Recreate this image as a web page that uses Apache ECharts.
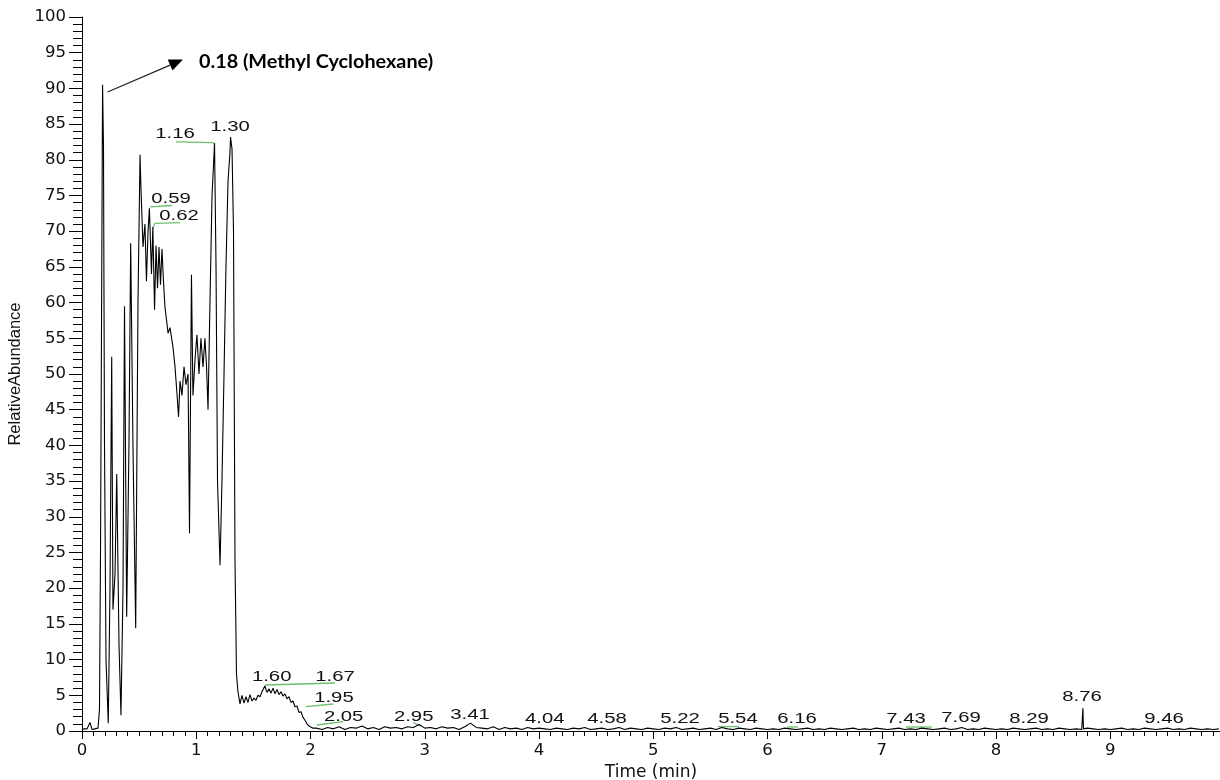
<!DOCTYPE html>
<html>
<head>
<meta charset="utf-8">
<title>Chromatogram</title>
<script src="https://cdn.jsdelivr.net/npm/echarts@6/dist/echarts.min.js"></script>
<style>
  html, body { margin: 0; padding: 0; background: #fff; }
  #chart { width: 1220px; height: 780px; }
</style>
</head>
<body>
<div id="chart"></div>
<script>
// Total ion chromatogram: retention time (min) vs. relative abundance (%)

// Early, peak-rich part of the run (0 - 2.02 min)
const traceTime = [
  0, 0.02, 0.044, 0.07, 0.088, 0.114, 0.14, 0.153, 0.162, 0.18,
  0.188, 0.197, 0.21, 0.23, 0.245, 0.26, 0.271, 0.289, 0.304, 0.324,
  0.341, 0.359, 0.372, 0.391, 0.411, 0.426, 0.446, 0.47, 0.49, 0.508,
  0.516, 0.534, 0.551, 0.564, 0.578, 0.59, 0.608, 0.62, 0.635, 0.648,
  0.661, 0.674, 0.687, 0.70, 0.713, 0.726, 0.744, 0.753, 0.77, 0.796,
  0.814, 0.831, 0.845, 0.858, 0.875, 0.893, 0.91, 0.928, 0.941, 0.958,
  0.971, 0.989, 1.006, 1.024, 1.041, 1.059, 1.076, 1.09, 1.103, 1.12,
  1.138, 1.16, 1.173, 1.186, 1.208, 1.225, 1.243, 1.26, 1.278, 1.295,
  1.30, 1.313, 1.326, 1.339, 1.352, 1.365, 1.383, 1.40, 1.418, 1.435,
  1.453, 1.47, 1.488, 1.505, 1.523, 1.54, 1.558, 1.575, 1.60, 1.619,
  1.637, 1.654, 1.672, 1.689, 1.707, 1.724, 1.742, 1.759, 1.777, 1.794,
  1.812, 1.829, 1.847, 1.864, 1.882, 1.899, 1.917, 1.934, 1.952, 1.969,
  1.987, 2.004, 2.021
];
const traceAbund = [
  0.2, 0.3, 0.3, 1.2, 0.2, 0.3, 0.4, 3, 25, 90.5,
  82, 40, 10, 1.1, 20, 52.4, 17, 22, 36, 12,
  2.2, 20, 59.5, 16, 40, 68.3, 40, 14.4, 60, 80.7,
  76, 67.8, 71, 63, 70, 73.2, 64, 70.6, 59, 68,
  62, 67.8, 62.5, 67.5, 63, 59.4, 57, 55.7, 56.5, 53.8,
  51, 47.3, 44, 49, 47, 51, 48.5, 50, 27.7, 63.9,
  47, 52, 55.5, 50, 55, 51, 55, 51, 45, 60,
  75, 82.3, 65, 35, 23.2, 35, 50, 65, 77, 81,
  83.2, 81.5, 70, 24, 8, 5.5, 3.8, 5, 3.9, 4.8,
  4, 5.1, 4.2, 4.6, 4.3, 5, 4.8, 5.5, 6.3, 5.4,
  5.9, 5.3, 6, 5.2, 5.8, 5.1, 5.5, 4.9, 5.2, 4.5,
  4.8, 4, 4.2, 3.4, 3.5, 2.6, 2.7, 1.9, 1.5, 1,
  0.7, 0.5, 0.4
];

// Baseline after 2.05 min, one reading every 0.05 min
const baselineStart = 2.05;
const baselineStep = 0.05;
const baselineAbund = [
  0.4, 0.2, 0.5, 0.3, 0.6, 0.2, 0.5, 0.4, 0.7, 0.3, 0.5, 0.2, 0.6, 0.4, 0.5, 0.3, 0.6, 0.5, 0.9, 0.4,
  0.5, 0.3, 0.6, 0.4, 0.5, 0.2, 0.6, 1.1, 0.5, 0.4, 0.3, 0.6, 0.2, 0.5, 0.3, 0.4, 0.2, 0.5, 0.3, 0.4,
  0.3, 0.2, 0.4, 0.3, 0.2, 0.4, 0.3, 0.5, 0.2, 0.3, 0.4, 0.2, 0.3, 0.5, 0.2, 0.4, 0.3, 0.2, 0.4, 0.3,
  0.2, 0.4, 0.3, 0.5, 0.2, 0.3, 0.4, 0.2, 0.3, 0.4, 0.2, 0.5, 0.3, 0.2, 0.4, 0.3, 0.2, 0.4, 0.3, 0.2,
  0.3, 0.2, 0.4, 0.3, 0.2, 0.3, 0.4, 0.2, 0.3, 0.2, 0.4, 0.3, 0.2, 0.3, 0.4, 0.2, 0.3, 0.2, 0.4, 0.3,
  0.2, 0.3, 0.4, 0.2, 0.3, 0.2, 0.4, 0.3, 0.2, 0.3, 0.4, 0.2, 0.3, 0.5, 0.2, 0.3, 0.2, 0.4, 0.3, 0.2,
  0.3, 0.2, 0.4, 0.3, 0.2, 0.3, 0.4, 0.2, 0.3, 0.2, 0.4, 0.3, 0.2, 0.3, 0.2, 0.4, 0.3, 0.2, 0.3, 0.2,
  0.3, 0.4, 0.2, 0.3, 0.2, 0.4, 0.3, 0.2, 0.3, 0.4, 0.2, 0.3, 0.2, 0.4, 0.3, 0.2, 0.3, 0.2, 0.3
];

// Narrow late-eluting peak
const spikeTime = [8.755, 8.76, 8.765];
const spikeAbund = [0.3, 3.2, 0.3];

// Retention-time labels of the integrated peaks
const peakLabels = ['0.59', '0.62', '1.16', '1.30', '1.60', '1.67', '1.95', '2.05', '2.95', '3.41',
                    '4.04', '4.58', '5.22', '5.54', '6.16', '7.43', '7.69', '8.29', '8.76', '9.46'];

const mainPeakTime = 0.18;
const mainPeakName = 'Methyl Cyclohexane';

// Axis ranges
const timeMax = 9.96;
const abundMax = 100;

// ---- layout of the annotations (in axis units) ----
const labelAnchor = [
  [0.779, 74.5], [0.849, 72.1], [0.814, 83.6], [1.295, 84.6], [1.66, 7.56],
  [2.214, 7.56], [2.205, 4.62], [2.29, 2.0], [2.903, 1.96], [3.396, 2.24],
  [4.05, 1.68], [4.595, 1.68], [5.234, 1.68], [5.741, 1.68], [6.258, 1.68],
  [7.212, 1.68], [7.693, 1.82], [8.288, 1.68], [8.752, 4.76], [9.47, 1.68]
];
const leaderPaths = [
  [[0.595, 73.4], [0.788, 73.6]],
  [[0.62, 70.4], [0.639, 71.1], [0.858, 71.2]],
  [[0.823, 82.5], [1.147, 82.4], [1.16, 82.1]],
  [[1.602, 6.44], [2.214, 6.72]],
  [[1.96, 3.4], [2.199, 3.78]],
  [[2.054, 0.84], [2.287, 1.3]],
  [[2.9, 1.16], [2.964, 0.7]],
  [[5.566, 0.62], [5.75, 0.62]],
  [[6.17, 0.56], [6.266, 0.56]],
  [[7.21, 0.56], [7.44, 0.56]]
];

// ---- assemble the trace ----
const points = traceTime.map((t, i) => [t, traceAbund[i]]);
baselineAbund.forEach((v, i) => {
  points.push([+(baselineStart + i * baselineStep).toFixed(3), v]);
});
spikeTime.forEach((t, i) => points.push([t, spikeAbund[i]]));
points.sort((a, b) => a[0] - b[0]);

const chart = echarts.init(document.getElementById('chart'), null, { renderer: 'canvas' });

const tickFont = { fontFamily: 'DejaVu Sans', fontSize: 16.5, color: '#111' };

chart.setOption({
  animation: false,
  backgroundColor: '#fff',
  grid: { left: 82, right: 0, top: 17, bottom: 49, containLabel: false, outerBoundsMode: 'none' },
  xAxis: {
    type: 'value',
    min: 0,
    max: timeMax,
    interval: 1,
    name: 'Time (min)',
    nameLocation: 'middle',
    nameGap: 30,
    nameTextStyle: { fontFamily: 'DejaVu Sans', fontSize: 17, color: '#111' },
    axisLine: { show: true, onZero: false, lineStyle: { color: '#000', width: 1 } },
    axisTick: { show: true, length: 8, lineStyle: { color: '#000' } },
    minorTick: { show: true, splitNumber: 10, length: 5, lineStyle: { color: '#000' } },
    axisLabel: Object.assign({ margin: 11, showMaxLabel: false }, tickFont),
    splitLine: { show: false }
  },
  yAxis: {
    type: 'value',
    min: 0,
    max: abundMax,
    interval: 5,
    name: 'RelativeAbundance',
    nameLocation: 'middle',
    nameRotate: 90,
    nameGap: 53,
    nameTextStyle: { fontFamily: 'Liberation Sans', fontSize: 16.5, color: '#111' },
    axisLine: { show: true, lineStyle: { color: '#000', width: 1 } },
    axisTick: { show: true, length: 13, lineStyle: { color: '#000' } },
    minorTick: { show: true, splitNumber: 5, length: 9, lineStyle: { color: '#000' } },
    axisLabel: Object.assign({ margin: 16 }, tickFont),
    splitLine: { show: false }
  },
  series: [
    {
      name: 'TIC',
      type: 'line',
      data: points,
      showSymbol: false,
      symbol: 'none',
      sampling: null,
      lineStyle: { color: '#000', width: 1.1 },
      z: 3
    },
    {
      // green integration leaders
      type: 'custom',
      data: leaderPaths.map((p, i) => [p[0][0], p[0][1], i]),
      renderItem: function (params, api) {
        const path = leaderPaths[params.dataIndex];
        return {
          type: 'polyline',
          shape: { points: path.map(pt => api.coord(pt)) },
          style: { stroke: '#6cbf6c', lineWidth: 1.3, fill: null }
        };
      },
      silent: true,
      z: 2
    },
    {
      // retention-time labels
      type: 'custom',
      data: labelAnchor.map((a, i) => [a[0], a[1], i]),
      renderItem: function (params, api) {
        const p = api.coord([api.value(0), api.value(1)]);
        return {
          type: 'text',
          x: p[0],
          y: p[1],
          scaleX: 1.45,
          style: {
            text: peakLabels[params.dataIndex],
            font: '14px "Liberation Sans", Arial, sans-serif',
            fill: '#111',
            align: 'center',
            verticalAlign: 'middle',
            textAlign: 'center',
            textVerticalAlign: 'middle'
          }
        };
      },
      silent: true,
      z: 4
    }
  ]
});

// Arrow annotation naming the main peak
const anchor = chart.convertToPixel({ gridIndex: 0 }, [mainPeakTime, 89.5]);
const start = [anchor[0] + 5, anchor[1]];
const tip = [start[0] + 75.4, start[1] - 32.4];
const len = Math.hypot(tip[0] - start[0], tip[1] - start[1]);
const ux = (tip[0] - start[0]) / len, uy = (tip[1] - start[1]) / len;
const headLen = 14, headHalf = 6;
const base = [tip[0] - ux * headLen, tip[1] - uy * headLen];
chart.setOption({
  graphic: [
    {
      type: 'line',
      shape: { x1: start[0], y1: start[1], x2: base[0], y2: base[1] },
      style: { stroke: '#222', lineWidth: 1.2 },
      silent: true
    },
    {
      type: 'polygon',
      shape: {
        points: [
          tip,
          [base[0] - uy * headHalf, base[1] + ux * headHalf],
          [base[0] + uy * headHalf, base[1] - ux * headHalf]
        ]
      },
      style: { fill: '#000' },
      silent: true
    },
    {
      type: 'text',
      x: tip[0] + 16,
      y: tip[1] + 3,
      scaleX: 1.1,
      style: {
        text: mainPeakTime.toFixed(2) + ' (' + mainPeakName + ')',
        font: 'bold 18px Lato, "Open Sans", sans-serif',
        fill: '#000',
        align: 'left',
        verticalAlign: 'middle',
        textAlign: 'left',
        textVerticalAlign: 'middle'
      },
      silent: true
    }
  ]
});
</script>
</body>
</html>
